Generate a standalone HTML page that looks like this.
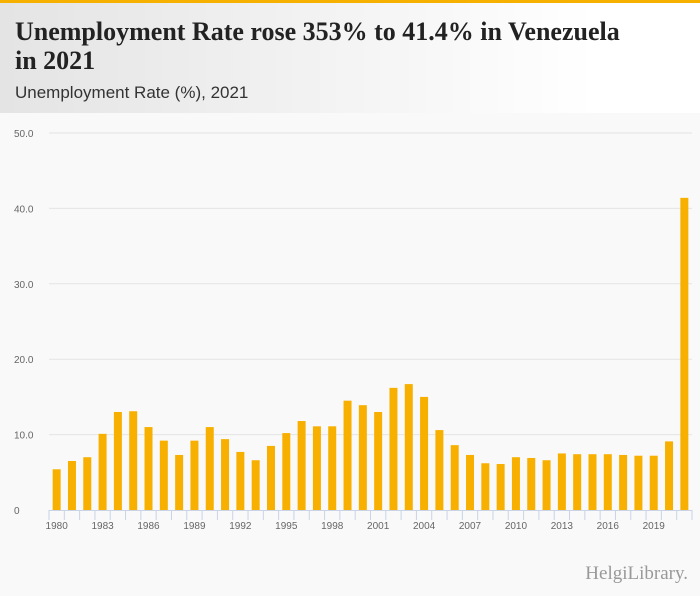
<!DOCTYPE html>
<html><head><meta charset="utf-8"><style>
body{margin:0;width:700px;height:596px;background:#f9f9f9;font-family:"Liberation Sans",sans-serif;overflow:hidden}
#hdr{position:absolute;left:0;top:0;width:700px;height:113px;background:linear-gradient(90deg,#e4e4e4 0%,#f4f4f4 50%,#ffffff 85%);border-top:3px solid #f5b000;box-sizing:border-box}
#title{position:absolute;left:15px;top:14px;font-family:"Liberation Serif",serif;font-weight:bold;font-size:26px;line-height:29px;color:#222;width:628px}
#sub{position:absolute;left:15px;top:80px;font-size:17px;color:#333}
svg{position:absolute;left:0;top:0}
</style></head><body>
<div id="hdr">
<div id="title">Unemployment Rate rose 353% to 41.4% in Venezuela in 2021</div>
<div id="sub">Unemployment Rate (%), 2021</div>
</div>
<svg id="c" width="700" height="596"></svg>
<script>
const years=[];for(let y=1980;y<=2021;y++)years.push(y);
const values=[5.4,6.5,7.0,10.1,13.0,13.1,11.0,9.2,7.3,9.2,11.0,9.4,7.7,6.6,8.5,10.2,11.8,11.1,11.1,14.5,13.9,13.0,16.2,16.7,15.0,10.6,8.6,7.3,6.2,6.1,7.0,6.9,6.6,7.5,7.4,7.4,7.4,7.3,7.2,7.2,9.1,41.4];
const yTicks=[0,10,20,30,40,50];
const yTickLabels=["0","10.0","20.0","30.0","40.0","50.0"];
const NS="http://www.w3.org/2000/svg",svg=document.getElementById('c');
const x0=49,x1=692,yb=510,yt=133,ymax=50;
const band=(x1-x0)/years.length;
const X=i=>x0+band*i, Y=v=>yb-(v/ymax)*(yb-yt);
function mk(t,a,txt){const e=document.createElementNS(NS,t);for(const k in a)e.setAttribute(k,a[k]);if(txt!=null)e.textContent=txt;svg.appendChild(e);return e;}
yTicks.forEach((t,i)=>{
 if(t>0){const g=mk('line',{x1:x0,x2:x1,y1:Y(t),y2:Y(t),stroke:'#e4e4e4','stroke-width':1});
 
 }
 const l=mk('text',{x:14,y:Y(t)+4,'font-size':10,fill:'#666'},yTickLabels[i]);
 
 
});
values.forEach((v,i)=>{
 const b=mk('rect',{x:X(i)+band/2-4,y:Y(v),width:8,height:yb-Y(v),fill:'#f8b000'});
 
 
});
const ax=mk('line',{x1:x0,x2:x1,y1:yb+0.5,y2:yb+0.5,stroke:'#c8d4e6'});


for(let i=0;i<=years.length;i++){
 const tk=mk('line',{x1:X(i),x2:X(i),y1:yb,y2:yb+10,stroke:'#c8d4e6'});
 
 
}
years.forEach((y,i)=>{if((y-1980)%3===0){
 const l=mk('text',{x:X(i)+band/2,y:yb+19,'font-size':10,fill:'#666','text-anchor':'middle'},String(y));
 
 
}});
const logo=mk('text',{x:688,y:579,'font-size':19,fill:'#999','text-anchor':'end','font-family':'Liberation Serif, serif'},'HelgiLibrary.');


</script>
</body></html>
